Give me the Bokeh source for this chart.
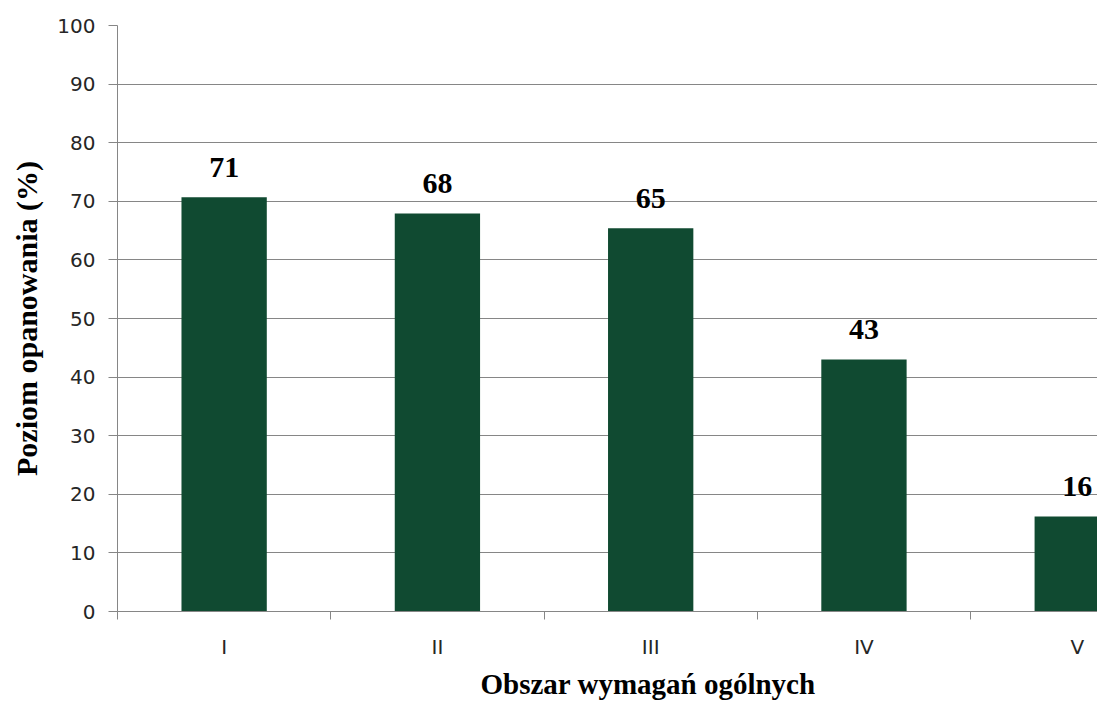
from bokeh.plotting import figure
from bokeh.models import Range1d, FixedTicker, ColumnDataSource, Title
from bokeh.core.properties import value
from bokeh.embed import file_html
from bokeh.resources import INLINE

categories = ["I", "II", "III", "IV", "V"]
values = [70.7, 67.9, 65.4, 43.0, 16.2]
labels = ["71", "68", "65", "43", "16"]
y_ticks = [0, 10, 20, 30, 40, 50, 60, 70, 80, 90, 100]

xs = [i + 0.5 for i in range(len(categories))]
src = ColumnDataSource(dict(x=xs, top=values, lab=labels))

p = figure(width=1097, height=704, output_backend="svg", toolbar_location=None,
           x_range=Range1d(0, 4.595), y_range=Range1d(0, 100),
           min_border_left=117, min_border_right=0, min_border_top=25, min_border_bottom=93)
p.outline_line_color = None
p.background_fill_color = "white"

p.vbar(x="x", top="top", bottom=0, width=0.4, source=src, fill_color="#104a31", line_color=None)
p.text(x="x", y="top", text="lab", source=src, text_align="center", text_baseline="middle",
       y_offset=-30, text_font=value("Liberation Serif"), text_font_style="bold",
       text_font_size="30px", text_color="black")

# x axis
p.xaxis.ticker = FixedTicker(ticks=xs, minor_ticks=list(range(len(categories))))
p.xaxis.major_label_overrides = {x: c for x, c in zip(xs, categories)}
p.xaxis.major_tick_line_color = None
p.xaxis.major_tick_out = 0
p.xaxis.major_tick_in = 0
p.xaxis.minor_tick_out = 8
p.xaxis.minor_tick_in = 0
p.xaxis.minor_tick_line_color = "#868686"
p.xaxis.axis_line_color = "#868686"
p.xaxis.major_label_standoff = 15
p.xaxis.major_label_text_font = "DejaVu Sans"
p.xaxis.major_label_text_font_size = "20px"
p.xaxis.major_label_text_color = "#262626"
p.xgrid.grid_line_color = None

xtitle = Title(text="Obszar wymagań ogólnych", align="left", offset=363, standoff=9,
               text_font="Liberation Serif", text_font_style="bold",
               text_font_size="29px", text_color="black")
p.add_layout(xtitle, "below")

# y axis
p.yaxis.ticker = FixedTicker(ticks=y_ticks)
p.yaxis.minor_tick_line_color = None
p.yaxis.major_tick_out = 9
p.yaxis.major_tick_in = 0
p.yaxis.major_tick_line_color = "#868686"
p.yaxis.axis_line_color = "#868686"
p.yaxis.major_label_standoff = 13
p.yaxis.major_label_text_font = "DejaVu Sans"
p.yaxis.major_label_text_font_size = "20px"
p.yaxis.major_label_text_color = "#262626"
p.yaxis.axis_label = "Poziom opanowania (%)"
p.yaxis.axis_label_text_font = "Liberation Serif"
p.yaxis.axis_label_text_font_style = "bold"
p.yaxis.axis_label_text_font_size = "30px"
p.yaxis.axis_label_text_color = "black"
p.yaxis.axis_label_standoff = 11
p.ygrid.grid_line_color = "#868686"
p.ygrid.grid_line_width = 1

open("out.html", "w").write(file_html(p, INLINE))
